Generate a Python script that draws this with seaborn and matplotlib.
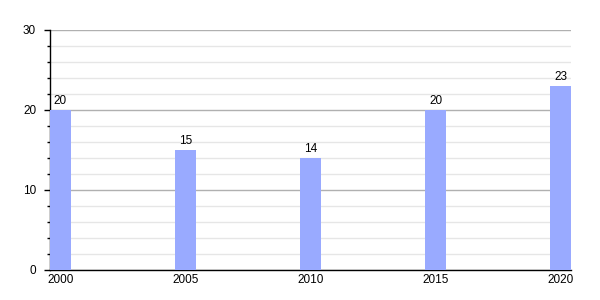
import matplotlib
matplotlib.use("Agg")
import matplotlib.pyplot as plt
from matplotlib.ticker import MultipleLocator
import seaborn as sns
import pandas as pd

years = ["2000", "2005", "2010", "2015", "2020"]
values = [20, 15, 14, 20, 23]

df = pd.DataFrame({"year": years, "value": values})

sns.set_style("white")
plt.rcParams["font.family"] = ["Liberation Sans", "DejaVu Sans"]
plt.rcParams["text.color"] = "black"
plt.rcParams["xtick.color"] = "black"
plt.rcParams["ytick.color"] = "black"

fig = plt.figure(figsize=(6, 3), dpi=100)
ax = fig.add_axes([50/600, 30/300, 521/600, 240/300])

bw = 0.168
sns.barplot(data=df, x="year", y="value", color="#99aaff", saturation=1,
            width=bw, ax=ax, zorder=3, linewidth=0)

ax.set_xlim(-bw/2, len(years) - 1 + bw/2)
ax.set_ylim(0, 30)
ax.yaxis.set_major_locator(MultipleLocator(10))
ax.yaxis.set_minor_locator(MultipleLocator(2))
ax.grid(which="major", axis="y", color="#b0b0b0", linewidth=1, zorder=0)
ax.grid(which="minor", axis="y", color="#e6e6e6", linewidth=1, zorder=0)
ax.set_axisbelow(True)

for s in ["top", "right"]:
    ax.spines[s].set_visible(False)
for s in ["left", "bottom"]:
    ax.spines[s].set_color("black")
    ax.spines[s].set_linewidth(1)

ax.tick_params(axis="y", which="major", length=4, width=1, color="black",
               labelsize=8.5, pad=6, left=True, labelcolor="black")
ax.tick_params(axis="y", which="minor", length=2, width=1, color="black", left=True)
ax.tick_params(axis="x", which="both", length=0, labelsize=8.5, pad=3, labelcolor="black")

for c in ax.containers:
    ax.bar_label(c, labels=[str(v) for v in values], fontsize=8.5, padding=2, color="black")

ax.set_xlabel("")
ax.set_ylabel("")

fig.savefig("out.png", dpi=100)
